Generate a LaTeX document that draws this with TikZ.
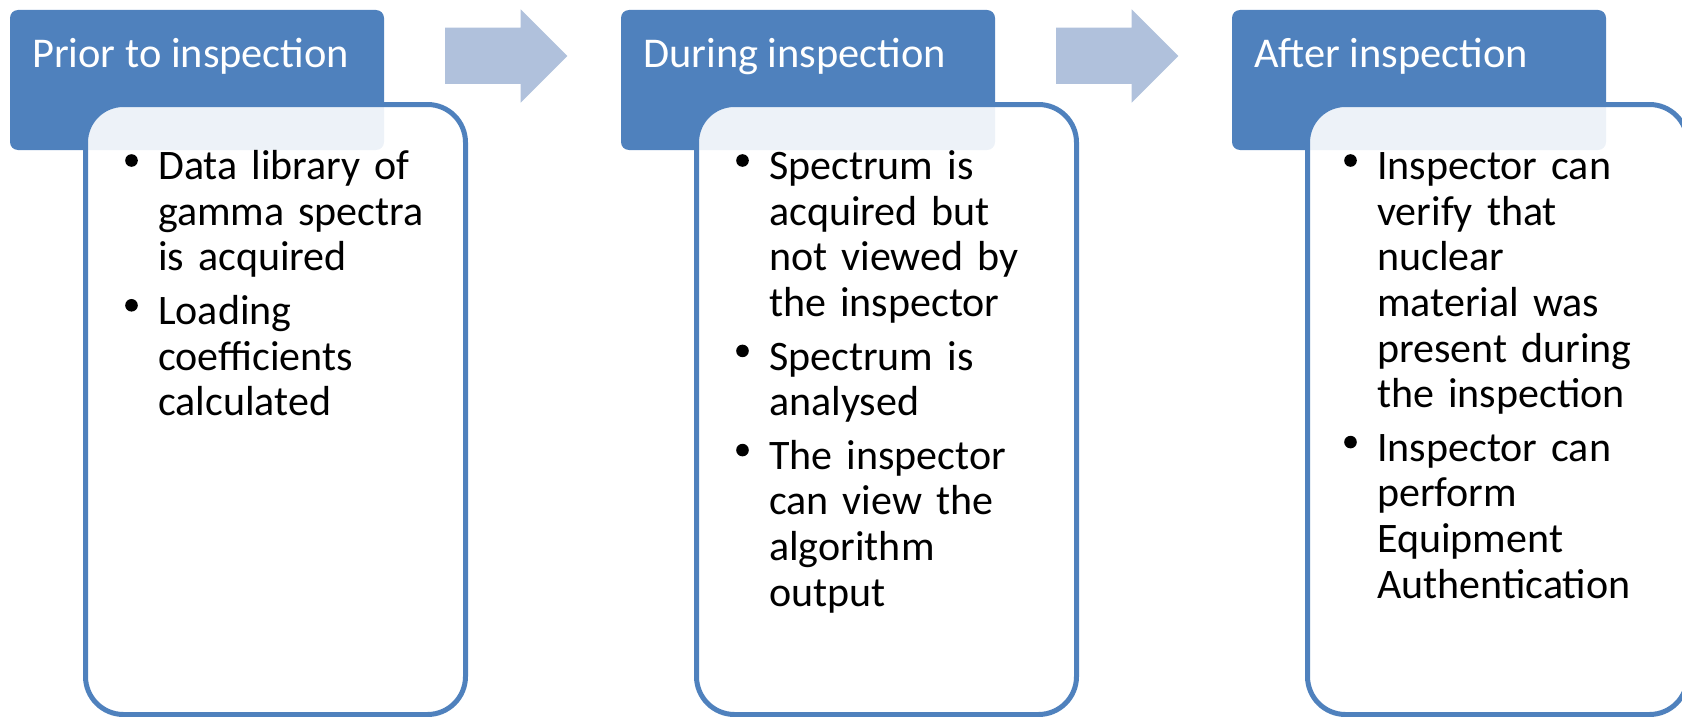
\documentclass[tikz,border=0pt]{standalone}
\usepackage{fontspec}
\setmainfont{Carlito}
\usetikzlibrary{positioning}
\definecolor{hdblue}{RGB}{79,129,189}
\definecolor{arrblue}{RGB}{176,193,220}
\newcommand\dotmark{\makebox[33pt][l]{\raisebox{13pt}{\tikz\fill (0,0) circle (6.3pt);}}}
\newcommand\bul[1]{\par\hangindent=33pt\hangafter=1\noindent\dotmark#1\par}

\begin{document}
\begin{tikzpicture}[x=1pt,y=-1pt,
 head/.style={fill=hdblue,rounded corners=8pt,minimum width=374pt,minimum height=140pt,inner sep=0pt},
 headtxt/.style={text=white,anchor=base west,inner sep=0pt,font=\fontsize{42.4}{50}\selectfont},
 card/.style={draw=hdblue,line width=5pt,fill=white,fill opacity=.9,rounded corners=38pt,minimum width=380pt,minimum height=610pt,inner sep=0pt},
 items/.style={anchor=north west,inner sep=0pt,text width=340pt,font=\fontsize{42}{45.6}\selectfont,execute at begin node={\setlength{\parskip}{8pt}}},
 flow/.style={fill=arrblue}]
\useasboundingbox (0,0) rectangle (1682,717);
\begin{scope}
\node[head] (hd1) at (197,80) {};
\node[headtxt] (ht1) at (32,68) {Prior to inspection};
\fill[flow] (445,27.7)--(520.7,27.7)--(520.7,9.3)--(567.3,56)--(520.7,102.7)--(520.7,84)--(445,84)--cycle;
\node[card] (cd1) at (275.5,409.5) {};
\node[items] (it1) at (125,126) {\bul{Data library of\newline gamma spectra\newline is acquired}\bul{Loading\newline coefficients\newline calculated}};
\end{scope}
\begin{scope}[xshift=611pt]
\node[head] (hd2) at (197,80) {};
\node[headtxt] (ht2) at (32,68) {During inspection};
\fill[flow] (445,27.7)--(520.7,27.7)--(520.7,9.3)--(567.3,56)--(520.7,102.7)--(520.7,84)--(445,84)--cycle;
\node[card] (cd2) at (275.5,409.5) {};
\node[items] (it2) at (125,126) {\bul{Spectrum is\newline acquired but\newline not viewed by\newline the inspector}\bul{Spectrum is\newline analysed}\bul{The inspector\newline can view the\newline algorithm\newline output}};
\end{scope}
\begin{scope}[xshift=1222pt]
\node[head] (hd3) at (197,80) {};
\node[headtxt] (ht3) at (32,68) {After inspection};
\node[card] (cd3) at (275.5,409.5) {};
\node[items] (it3) at (122,126) {\bul{Inspector can\newline verify that\newline nuclear\newline material was\newline present during\newline the inspection}\bul{Inspector can\newline perform\newline Equipment\newline Authentication}};
\end{scope}
\end{tikzpicture}
\end{document}
